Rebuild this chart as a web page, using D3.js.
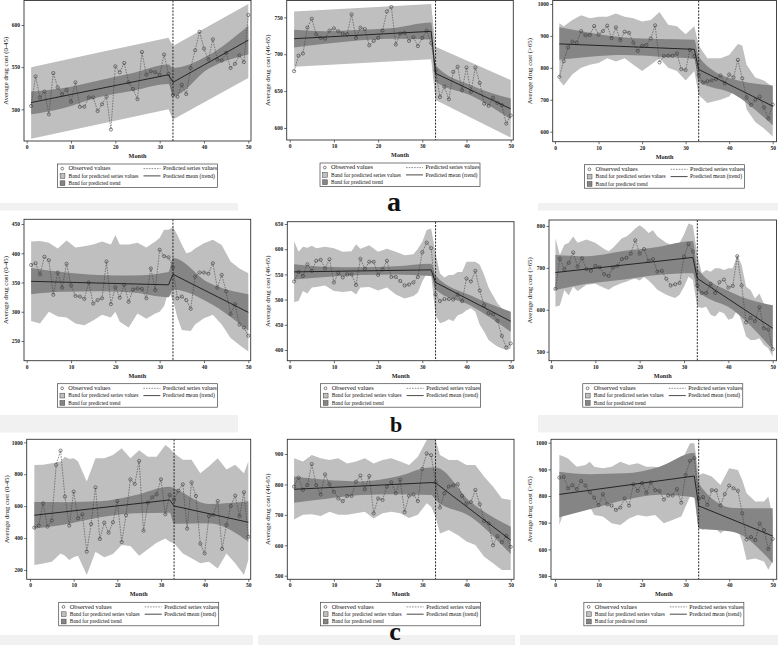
<!DOCTYPE html>
<html><head><meta charset="utf-8">
<script src="https://cdn.jsdelivr.net/npm/d3@7"></script>
<style>body{margin:0;background:#fff} svg{display:block}</style>
</head><body>
<svg id="chart" width="778" height="645"></svg>
<script>
// ---------- shared categories / labels ----------
const months = [1,2,3,4,5,6,7,8,9,10,11,12,13,14,15,16,17,18,19,20,21,22,23,24,25,26,27,28,29,30,31,32,33,34,35,36,37,38,39,40,41,42,43,44,45,46,47,48,49,50];
const xTicks = [0,10,20,30,40,50];
const interventionMonth = 33;
const legendLeft = ["Observed values", "Band for predicted series values", "Band for predicted trend"];
const legendRight = ["Predicted series values", "Predicted mean (trend)"];
const panelLetters = ["a", "b", "c"];
const yTitles = ["Average drug cost (0-45)", "Average drug cost (46-65)", "Average drug cost (>65)"];

// ---------- y tick labels ----------
const yTicksA1 = [500,550,600];
const yTicksA2 = [600,650,700,750];
const yTicksA3 = [600,700,800,900,1000];
const yTicksB1 = [250,300,350,400,450];
const yTicksB2 = [400,450,500,550,600,650];
const yTicksB3 = [500,600,700,800];
const yTicksC1 = [200,400,600,800,1000];
const yTicksC2 = [500,600,700,800,900];
const yTicksC3 = [500,600,700,800,900,1000];

// ---------- panel a1 ----------
const obsA1 = [504,539,514,521,494,543,526,518,523,509,532,503,503,514,514,498,506,515,476,551,544,555,532,524,512,568,541,545,544,541,565,542,517,515,529,518,549,570,592,572,559,583,559,558,567,549,554,564,556,612];
const trendA1 = [[1,508],[32,541],[33,532],[50,582]];
const trendBandA1 = [[1,494,521],[8,501,525],[16,514,534],[24,522,543],[32,530,553],[33,516,549],[41,548,564],[50,565,599]];
const seriesBandA1 = [[1,465,550],[16,482,567],[32,500,585],[33,488,575],[50,537,625]];
// ---------- panel a2 ----------
const obsA2 = [677,698,701,736,748,727,722,721,732,735,731,728,727,754,722,736,734,712,718,722,732,758,764,713,728,729,718,723,711,722,732,715,678,642,656,639,676,683,651,682,649,682,661,633,630,641,634,631,606,617];
const trendA2 = [[1,721],[32,731],[33,674],[50,626]];
const trendBandA2 = [[1,709,733],[8,714,731],[16,719,733],[24,721,736],[32,720,743],[33,663,685],[41,644,658],[50,612,640]];
const seriesBandA2 = [[1,683,758],[32,693,768],[33,638,710],[50,587,665]];
// ---------- panel a3 ----------
const obsA3 = [772,821,864,882,879,915,902,903,931,904,915,932,893,927,887,913,910,879,853,869,872,892,933,817,837,838,838,845,796,793,856,837,778,754,758,761,765,776,751,779,770,825,767,707,684,700,710,676,641,685];
const trendA3 = [[1,875],[32,858],[33,795],[50,680]];
const trendBandA3 = [[1,825,927],[8,835,910],[16,840,895],[24,835,890],[32,828,888],[33,757,835],[41,718,764],[50,620,745]];
const seriesBandA3 = [[1,760,940],[2,745,930],[4,780,950],[6,800,965],[8,810,955],[10,815,960],[12,830,960],[14,820,970],[16,830,960],[18,810,955],[20,790,945],[22,810,950],[24,830,975],[26,800,935],[28,790,930],[30,760,905],[32,790,930],[33,715,870],[35,690,830],[38,700,830],[40,710,840],[42,745,875],[43,740,870],[44,670,810],[46,630,770],[48,610,760],[50,585,740]];
// ---------- panel b1 ----------
const obsB1 = [380,383,364,394,388,329,367,341,382,345,327,326,322,350,314,320,323,386,313,342,324,346,317,338,340,339,323,374,337,406,395,393,376,323,326,320,305,360,367,367,365,383,341,363,335,296,313,278,273,259];
const trendB1 = [[1,352],[32,346],[33,364],[50,299]];
const trendBandB1 = [[1,330,375],[8,334,368],[16,335,363],[24,333,362],[32,325,368],[33,338,392],[41,316,350],[50,268,330]];
const seriesBandB1 = [[1,284,420],[3,280,421],[5,300,418],[7,292,408],[9,290,422],[11,280,410],[13,277,412],[15,285,415],[17,295,420],[19,290,415],[20,300,431],[21,283,415],[23,273,415],[25,297,418],[27,288,410],[29,297,420],[30,300,426],[31,310,440],[32,335,440],[33,320,445],[34,290,431],[35,269,415],[36,268,400],[37,267,402],[38,278,408],[40,289,417],[42,295,423],[44,278,414],[46,255,386],[48,243,374],[50,232,366]];
// ---------- panel b2 ----------
const obsB2 = [536,555,547,570,557,577,579,562,580,534,553,544,550,550,529,581,561,575,575,549,560,577,545,545,537,528,530,534,545,594,613,602,510,497,501,501,500,510,497,542,536,557,518,489,473,471,458,428,405,413];
const trendB2 = [[1,555],[32,559],[33,534],[50,457]];
const trendBandB2 = [[1,540,570],[8,545,565],[16,549,564],[24,550,566],[32,547,571],[33,520,548],[41,488,508],[50,436,476]];
const seriesBandB2 = [[1,495,616],[2,497,595],[3,517,605],[4,512,603],[5,524,607],[6,525,602],[8,528,605],[10,517,602],[12,515,595],[14,517,596],[15,510,610],[16,524,601],[18,525,608],[20,518,595],[22,524,601],[24,510,595],[26,502,588],[28,507,590],[29,514,601],[30,536,615],[31,552,638],[32,549,641],[33,469,592],[34,453,552],[35,456,544],[36,461,549],[37,457,549],[38,469,555],[39,472,555],[40,479,575],[41,483,575],[42,476,575],[43,450,569],[44,436,549],[45,420,524],[46,413,508],[47,407,493],[48,403,483],[49,400,476],[50,403,476]];
// ---------- panel b3 ----------
const obsB3 = [650,722,697,712,737,703,723,697,693,705,701,685,681,701,705,721,724,734,766,734,745,717,721,691,693,674,658,661,664,727,757,739,658,640,640,662,640,666,672,653,657,728,658,570,581,573,606,556,553,506];
const trendB3 = [[1,689],[32,725],[33,675],[50,556]];
const trendBandB3 = [[1,647,731],[8,662,728],[16,672,740],[24,683,750],[32,687,764],[33,647,699],[41,600,640],[50,505,611]];
const seriesBandB3 = [[1,607,771],[2,610,731],[3,647,755],[4,635,760],[5,655,775],[6,645,760],[8,660,768],[10,662,760],[12,652,745],[13,648,740],[14,655,748],[16,664,771],[17,667,775],[18,672,783],[19,675,794],[20,670,802],[21,678,794],[22,670,783],[23,660,790],[24,648,775],[26,636,760],[27,632,755],[28,628,752],[29,636,760],[30,655,780],[31,679,806],[32,671,802],[33,607,731],[34,604,687],[35,607,695],[36,588,691],[37,584,699],[38,596,699],[39,592,695],[40,576,699],[41,580,699],[42,600,731],[43,572,707],[44,536,655],[45,528,647],[46,528,627],[47,532,639],[48,516,615],[49,508,611],[50,488,611]];
// ---------- panel c1 ----------
const obsC1 = [465,478,618,472,510,858,948,660,478,691,524,549,315,488,718,394,497,434,499,632,375,543,768,739,883,446,622,655,674,768,549,670,639,697,737,459,749,664,365,304,538,545,632,332,482,601,666,538,687,409];
const trendC1 = [[1,543],[32,639],[33,601],[50,499]];
const trendBandC1 = [[1,460,626],[8,485,625],[16,530,630],[24,555,668],[32,559,722],[33,490,712],[41,493,613],[50,378,630]];
const seriesBandC1 = [[1,231,858],[3,240,860],[5,252,868],[7,304,880],[8,290,910],[9,263,895],[10,280,900],[11,290,880],[13,169,754],[15,315,900],[17,280,900],[19,300,920],[21,357,962],[23,350,900],[25,290,950],[27,330,910],[29,370,910],[31,398,983],[32,377,962],[33,367,931],[35,304,890],[37,273,890],[39,242,806],[41,252,850],[43,210,900],[45,304,830],[47,242,860],[49,169,806],[50,263,879]];
// ---------- panel c2 ----------
const obsC2 = [793,822,782,798,867,798,767,833,800,776,754,745,762,762,809,829,784,828,705,754,749,793,807,771,815,709,763,767,745,851,902,896,807,724,771,793,797,801,762,737,742,782,735,680,672,600,630,610,631,595];
const trendC2 = [[1,784],[32,806],[33,805],[50,617]];
const trendBandC2 = [[1,740,826],[8,752,815],[16,765,810],[24,768,825],[32,765,856],[33,750,856],[41,693,742],[50,571,661]];
const seriesBandC2 = [[1,685,886],[3,700,875],[5,702,897],[7,696,886],[9,710,880],[11,700,886],[13,700,869],[15,705,875],[17,710,886],[19,688,869],[21,705,880],[23,710,886],[25,705,875],[27,690,864],[29,700,891],[31,738,946],[32,727,957],[33,694,948],[34,639,897],[36,650,880],[38,634,880],[40,612,864],[42,601,864],[44,562,825],[46,541,793],[48,519,754],[50,519,749]];
// ---------- panel c3 ----------
const obsC3 = [869,872,829,841,826,856,839,814,794,766,807,769,764,748,757,791,764,844,820,849,812,851,822,819,787,802,802,826,775,879,932,942,789,796,767,822,821,765,807,839,829,820,735,637,646,635,697,672,601,639];
const trendC3 = [[1,806],[32,875],[33,763],[50,650]];
const trendBandC3 = [[1,720,891],[8,750,882],[16,785,885],[24,805,910],[32,795,962],[33,679,847],[41,665,755],[50,548,754]];
const seriesBandC3 = [[1,691,954],[2,740,948],[3,740,941],[5,748,910],[7,754,916],[8,760,929],[9,729,910],[11,723,904],[13,698,910],[15,691,929],[17,716,916],[19,729,923],[21,723,910],[23,729,910],[25,698,898],[27,710,910],[29,723,929],[31,798,998],[32,792,998],[33,679,879],[34,673,885],[36,691,873],[38,660,841],[40,685,904],[42,673,898],[43,629,860],[44,560,810],[46,566,779],[48,554,779],[49,523,798],[50,554,723]];

// ---------- layout (positions only) ----------
const panels = [
  {obs:obsA1, trend:trendA1, tb:trendBandA1, sb:seriesBandA1, yTicks:yTicksA1, title:yTitles[0], frame:[24,0.5,251,141], xr:[26.7,248.3], yv:[500,600], yp:[109.3,25], tx:5},
  {obs:obsA2, trend:trendA2, tb:trendBandA2, sb:seriesBandA2, yTicks:yTicksA2, title:yTitles[1], frame:[286.7,0.5,513.3,140], xr:[289.7,510.7], yv:[600,750], yp:[128,17.3], tx:267},
  {obs:obsA3, trend:trendA3, tb:trendBandA3, sb:seriesBandA3, yTicks:yTicksA3, title:yTitles[2], frame:[552.7,0.5,776.5,141.7], xr:[555,772.7], yv:[600,1000], yp:[131.7,4], tx:529},
  {obs:obsB1, trend:trendB1, tb:trendBandB1, sb:seriesBandB1, yTicks:yTicksB1, title:yTitles[0], frame:[24,219.3,250.7,360.7], xr:[26.7,248.3], yv:[250,450], yp:[341,224], tx:5},
  {obs:obsB2, trend:trendB2, tb:trendBandB2, sb:seriesBandB2, yTicks:yTicksB2, title:yTitles[1], frame:[287.3,221.7,514,360.7], xr:[289.7,510.7], yv:[400,650], yp:[350,224], tx:267},
  {obs:obsB3, trend:trendB3, tb:trendBandB3, sb:seriesBandB3, yTicks:yTicksB3, title:yTitles[2], frame:[549,220,776.5,360.7], xr:[551,772.7], yv:[500,800], yp:[351.7,226], tx:529},
  {obs:obsC1, trend:trendC1, tb:trendBandC1, sb:seriesBandC1, yTicks:yTicksC1, title:yTitles[0], frame:[26.7,439.3,250.7,579.3], xr:[30,248.3], yv:[200,1000], yp:[570,442.3], tx:6},
  {obs:obsC2, trend:trendC2, tb:trendBandC2, sb:seriesBandC2, yTicks:yTicksC2, title:yTitles[1], frame:[287.3,439.3,514,579.3], xr:[289.7,510.7], yv:[500,900], yp:[575.7,454], tx:267},
  {obs:obsC3, trend:trendC3, tb:trendBandC3, sb:seriesBandC3, yTicks:yTicksC3, title:yTitles[2], frame:[551,439.3,776.7,579.3], xr:[555,772.7], yv:[500,1000], yp:[576,442.7], tx:529}
];

const LIGHT = "#bfbfbf", DARK = "#858585", SERIF = "'Liberation Serif','Times New Roman',serif";
const svg = d3.select("#chart");

// background strips
const strips = [[0,203,238,7.5],[538,203,240,7.5],[0,415,238,17.5],[538,415,240,17.5],[0,635,253,10],[258,635,257,10],[520,635,258,10]];
svg.selectAll("rect.strip").data(strips).join("rect").attr("class","strip")
  .attr("x",d=>d[0]).attr("y",d=>d[1]).attr("width",d=>d[2]).attr("height",d=>d[3]).attr("fill","#f1f1f1");

panels.forEach((p,i)=>{
  const [fx0,fy0,fx1,fy1] = p.frame;
  const x = d3.scaleLinear().domain([0,50]).range(p.xr);
  const y = d3.scaleLinear().domain(p.yv).range(p.yp);
  const g = svg.append("g");
  const cid = "clip"+i;
  svg.append("clipPath").attr("id",cid).append("rect").attr("x",fx0).attr("y",fy0).attr("width",fx1-fx0).attr("height",fy1-fy0);
  const pg = g.append("g").attr("clip-path",`url(#${cid})`);
  const area = d3.area().x(d=>x(d[0])).y0(d=>y(d[1])).y1(d=>y(d[2]));
  pg.append("path").datum(p.sb).attr("d",area).attr("fill",LIGHT);
  pg.append("path").datum(p.tb).attr("d",area.curve(d3.curveMonotoneX)).attr("fill",DARK);
  // intervention line
  pg.append("line").attr("x1",x(interventionMonth)).attr("x2",x(interventionMonth)).attr("y1",fy0).attr("y2",fy1)
    .attr("stroke","#111").attr("stroke-width",0.9).attr("stroke-dasharray","2,1.3");
  // predicted series (dashed) through observed
  const line = d3.line().x((d,j)=>x(months[j])).y(d=>y(d));
  pg.append("path").datum(p.obs).attr("d",line).attr("fill","none").attr("stroke","#444").attr("stroke-width",0.6).attr("stroke-dasharray","1.6,1.1");
  pg.selectAll("circle").data(p.obs).join("circle").attr("cx",(d,j)=>x(months[j])).attr("cy",d=>y(d)).attr("r",1.6)
    .attr("fill","none").attr("stroke","#3a3a3a").attr("stroke-width",0.6);
  // trend
  pg.append("path").datum(p.trend).attr("d",d3.line().x(d=>x(d[0])).y(d=>y(d[1]))).attr("fill","none").attr("stroke","#1a1a1a").attr("stroke-width",0.9);
  // frame
  g.append("rect").attr("x",fx0).attr("y",fy0).attr("width",fx1-fx0).attr("height",fy1-fy0).attr("fill","none").attr("stroke","#333").attr("stroke-width",0.9);
  // axes
  const ax = g.append("g").attr("transform",`translate(0,${fy1})`).call(d3.axisBottom(x).tickValues(xTicks).tickSize(2.5).tickPadding(1.5).tickFormat(d3.format("d")));
  const ay = g.append("g").attr("transform",`translate(${fx0},0)`).call(d3.axisLeft(y).tickValues(p.yTicks).tickSize(2.5).tickPadding(1.5).tickFormat(d3.format("d")));
  [ax,ay].forEach(a=>{
    a.select(".domain").remove();
    a.selectAll("line").attr("stroke","#333").attr("stroke-width",0.7);
    a.selectAll("text").attr("font-family",SERIF).attr("font-size",5.5).attr("font-weight","bold").attr("fill","#222");
  });
  // titles
  const cx = (fx0+fx1)/2, cy = (fy0+fy1)/2;
  g.append("text").attr("x",cx).attr("y",fy1+17).attr("text-anchor","middle").attr("font-family",SERIF).attr("font-size",6.2).attr("font-weight","bold").attr("fill","#222").text("Month");
  g.append("text").attr("transform",`translate(${p.tx+2.5},${cy}) rotate(-90)`).attr("text-anchor","middle").attr("font-family",SERIF).attr("font-size",6.8).attr("fill","#222").text(p.title);
  // legend
  const lw = 160, lh = 23.5, lx = cx - lw/2, ly = fy1 + 23;
  const lg = g.append("g").attr("transform",`translate(${lx},${ly})`);
  lg.append("rect").attr("width",lw).attr("height",lh).attr("fill","#fff").attr("stroke","#444").attr("stroke-width",0.7);
  const rows = [4.6,11.9,19.2];
  lg.append("circle").attr("cx",4.8).attr("cy",rows[0]).attr("r",1.4).attr("fill","none").attr("stroke","#333").attr("stroke-width",0.6);
  lg.append("rect").attr("x",2.6).attr("y",rows[1]-2.4).attr("width",4.8).attr("height",4.8).attr("fill",LIGHT).attr("stroke","#444").attr("stroke-width",0.5);
  lg.append("rect").attr("x",2.6).attr("y",rows[2]-2.4).attr("width",4.8).attr("height",4.8).attr("fill",DARK).attr("stroke","#444").attr("stroke-width",0.5);
  const lens = [42,70,52];
  legendLeft.forEach((t,k)=>{
    lg.append("text").attr("x",11).attr("y",rows[k]+1.8).attr("font-family",SERIF).attr("font-size",5.4).attr("fill","#111")
      .attr("textLength",lens[k]).attr("lengthAdjust","spacingAndGlyphs").text(t);
  });
  lg.append("line").attr("x1",86).attr("x2",103).attr("y1",rows[0]).attr("y2",rows[0]).attr("stroke","#444").attr("stroke-width",0.6).attr("stroke-dasharray","1.6,1.1");
  lg.append("line").attr("x1",86).attr("x2",103).attr("y1",rows[1]).attr("y2",rows[1]).attr("stroke","#1a1a1a").attr("stroke-width",0.8);
  const rl = [54,52];
  legendRight.forEach((t,k)=>{
    lg.append("text").attr("x",105.5).attr("y",rows[k]+1.8).attr("font-family",SERIF).attr("font-size",5.4).attr("fill","#111")
      .attr("textLength",rl[k]).attr("lengthAdjust","spacingAndGlyphs").text(t);
  });
});

// panel letters
const letterPos = [[394,211,28],[396,432,22],[395,640,26]];
svg.selectAll("text.letter").data(panelLetters).join("text").attr("class","letter")
  .attr("x",(d,i)=>letterPos[i][0]).attr("y",(d,i)=>letterPos[i][1]).attr("font-size",(d,i)=>letterPos[i][2])
  .attr("text-anchor","middle").attr("font-family",SERIF).attr("font-weight","bold").attr("fill","#111").text(d=>d);
</script>
</body></html>
